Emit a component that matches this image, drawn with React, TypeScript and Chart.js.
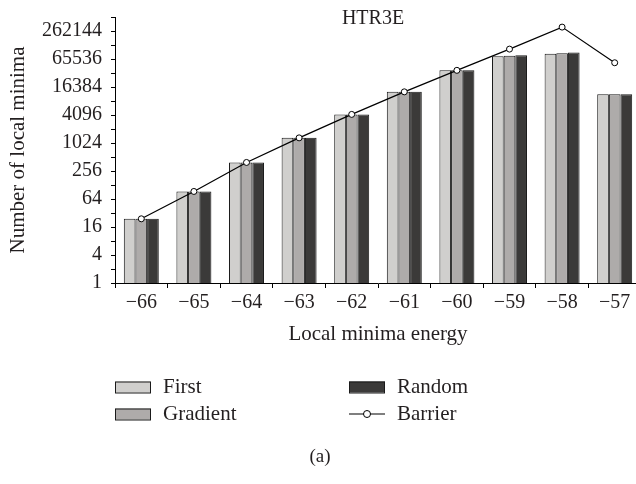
import { useEffect, useRef } from 'react';
import { Chart, registerables } from 'chart.js';

Chart.register(...registerables);

const FONT = "'Liberation Serif', 'DejaVu Serif', serif";
const INK = '#231f20';

const chartTitle = 'HTR3E';
const panelTag = '(a)';
const xAxisTitle = 'Local minima energy';
const yAxisTitle = 'Number of local minima';

const energies = ['−66', '−65', '−64', '−63', '−62', '−61', '−60', '−59', '−58', '−57'];
const firstCounts = [24, 93, 391, 1320, 4220, 12900, 37400, 74800, 84800, 11500];
const gradientCounts = [24, 93, 391, 1320, 4220, 12900, 37400, 77000, 86600, 11500];
const randomCounts = [24, 93, 391, 1320, 4220, 12900, 37400, 78600, 90900, 11500];
const barrierCounts = [24, 93, 391, 1320, 4220, 12900, 37400, 107000, 318000, 54400];

// every power of two gets a tick mark; only powers of four get a label
const yTickValues = [
  1, 2, 4, 8, 16, 32, 64, 128, 256, 512, 1024, 2048, 4096, 8192, 16384, 32768, 65536, 131072,
  262144, 524288,
];
const yLabelValues = [1, 4, 16, 64, 256, 1024, 4096, 16384, 65536, 262144];
const yMax = 524288;

const seriesColors = {
  First: '#d0cfcd',
  Gradient: '#aeabaa',
  Random: '#3b3a39',
};

const overlayPlugin = {
  id: 'overlayText',
  afterDraw(chart: any) {
    const ctx = chart.ctx as CanvasRenderingContext2D;
    const ds = chart.data.datasets;
    ctx.save();
    ctx.fillStyle = INK;
    ctx.textBaseline = 'middle';

    // chart heading inside the plot area
    ctx.font = `20px ${FONT}`;
    ctx.textAlign = 'center';
    ctx.fillText(chartTitle, 373, 19);

    // two-column legend under the axis
    const slots = [
      [115, 387],
      [115, 414],
      [349, 387],
      [349, 414],
    ];
    ctx.font = `21px ${FONT}`;
    ctx.textAlign = 'left';
    ds.forEach((d: any, i: number) => {
      const [x, y] = slots[i];
      if (d.type === 'line') {
        ctx.strokeStyle = '#000';
        ctx.lineWidth = 1.2;
        ctx.beginPath();
        ctx.moveTo(x, y);
        ctx.lineTo(x + 36, y);
        ctx.stroke();
        ctx.beginPath();
        ctx.arc(x + 18, y, 3.5, 0, Math.PI * 2);
        ctx.fillStyle = '#fff';
        ctx.fill();
        ctx.lineWidth = 1;
        ctx.stroke();
      } else {
        ctx.fillStyle = d.backgroundColor;
        ctx.fillRect(x, y - 5.5, 36, 11);
        ctx.strokeStyle = '#1a1a1a';
        ctx.lineWidth = 1;
        ctx.strokeRect(x + 0.5, y - 5, 35, 11);
      }
      ctx.fillStyle = INK;
      ctx.fillText(d.label, x + 48, y);
    });

    ctx.font = `19px ${FONT}`;
    ctx.textAlign = 'center';
    ctx.fillText(panelTag, 320, 457);
    ctx.restore();
  },
};

export default function App() {
  const canvasRef = useRef<HTMLCanvasElement | null>(null);

  useEffect(() => {
    const canvas = canvasRef.current;
    if (!canvas) return;
    const chart = new Chart(canvas, {
      type: 'bar',
      data: {
        labels: energies,
        datasets: [
          {
            type: 'bar',
            label: 'First',
            data: firstCounts,
            backgroundColor: seriesColors.First,
            borderColor: '#1a1a1a',
            borderWidth: 1,
            order: 1,
          },
          {
            type: 'bar',
            label: 'Gradient',
            data: gradientCounts,
            backgroundColor: seriesColors.Gradient,
            borderColor: '#1a1a1a',
            borderWidth: 1,
            order: 1,
          },
          {
            type: 'bar',
            label: 'Random',
            data: randomCounts,
            backgroundColor: seriesColors.Random,
            borderColor: '#1a1a1a',
            borderWidth: 1,
            order: 1,
          },
          {
            type: 'line',
            label: 'Barrier',
            data: barrierCounts,
            borderColor: '#000',
            borderWidth: 1.2,
            pointRadius: 3,
            pointBackgroundColor: '#fff',
            pointBorderColor: '#000',
            pointBorderWidth: 1,
            tension: 0,
            order: 0,
          } as any,
        ],
      },
      options: {
        responsive: false,
        animation: false,
        devicePixelRatio: 1,
        layout: { padding: { left: 0, right: 9, top: 17, bottom: 137 } },
        plugins: {
          legend: { display: false },
          tooltip: { enabled: false },
          title: { display: false },
        },
        datasets: {
          bar: { categoryPercentage: 0.665, barPercentage: 1.0 },
        },
        scales: {
          x: {
            type: 'category',
            grid: {
              display: true,
              offset: true,
              drawOnChartArea: false,
              drawTicks: true,
              tickLength: 5,
              tickColor: '#000',
              color: '#000',
            },
            border: { display: true, color: '#000', width: 1 },
            ticks: {
              color: INK,
              padding: 3,
              font: { family: FONT, size: 20 },
              maxRotation: 0,
              autoSkip: false,
            },
            title: {
              display: true,
              text: xAxisTitle,
              color: INK,
              font: { family: FONT, size: 21 },
              padding: { top: 0, bottom: 0 },
            },
            afterFit(scale: any) {
              scale.height = 64;
            },
          },
          y: {
            type: 'logarithmic',
            min: 1,
            max: yMax,
            grid: {
              display: true,
              drawOnChartArea: false,
              drawTicks: true,
              tickLength: 4,
              tickColor: '#000',
              color: '#000',
            },
            border: { display: true, color: '#000', width: 1 },
            afterBuildTicks(scale: any) {
              scale.ticks = yTickValues.map((v) => ({ value: v }));
            },
            ticks: {
              color: INK,
              padding: 9,
              autoSkip: false,
              font: { family: FONT, size: 20 },
              callback: (v: any) => (yLabelValues.includes(Number(v)) ? String(v) : ''),
            },
            title: {
              display: true,
              text: yAxisTitle,
              color: INK,
              font: { family: FONT, size: 21 },
              padding: { top: 6, bottom: 0 },
            },
            afterFit(scale: any) {
              scale.width = 115;
              scale.paddingTop = 0;
              scale.paddingBottom = 0;
            },
          },
        },
      },
      plugins: [overlayPlugin],
    });
    return () => chart.destroy();
  }, []);

  return (
    <div
      style={{
        position: 'fixed',
        left: 0,
        top: 0,
        width: 636,
        height: 484,
        overflow: 'hidden',
        background: '#fff',
      }}
    >
      <canvas ref={canvasRef} width={650} height={484} style={{ display: 'block' }} />
    </div>
  );
}
